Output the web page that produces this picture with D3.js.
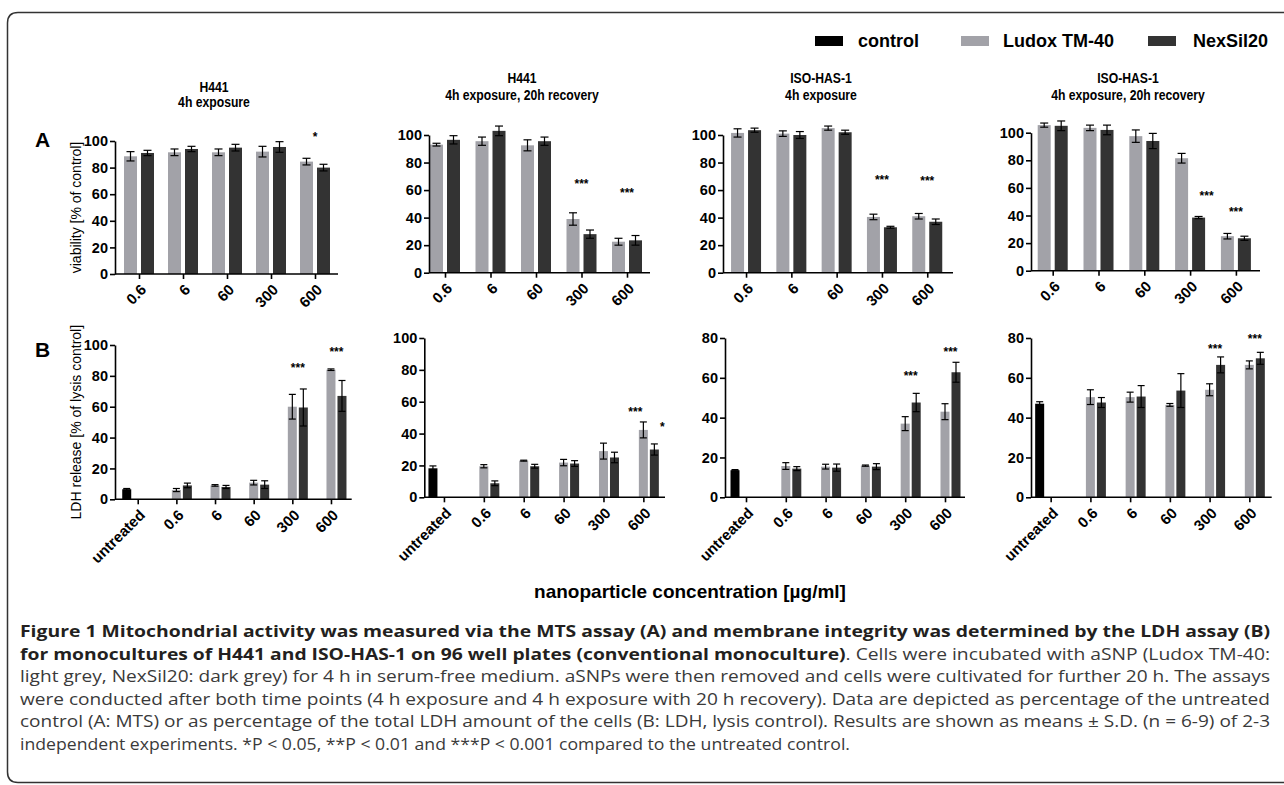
<!DOCTYPE html>
<html><head><meta charset="utf-8">
<script src="https://cdn.jsdelivr.net/npm/d3@7/dist/d3.min.js"></script>
<style>
html,body{margin:0;padding:0;background:#fff}
svg{display:block}
</style></head>
<body>
<svg id="fig" width="1284" height="785"></svg>
<script>
// ---------------- data ----------------
const seriesNames = ["control", "Ludox TM-40", "NexSil20"];
const seriesColors = ["#000000", "#a2a2a8", "#333333"];
const concA = ["0.6", "6", "60", "300", "600"];
const concB = ["untreated", "0.6", "6", "60", "300", "600"];
const panelCell = ["H441", "H441", "ISO-HAS-1", "ISO-HAS-1"];
const panelTime = ["4h exposure", "4h exposure, 20h recovery", "4h exposure", "4h exposure, 20h recovery"];
const yTicksA = [0, 20, 40, 60, 80, 100];
const yTicksB = [[0, 20, 40, 60, 80, 100], [0, 20, 40, 60, 80, 100], [0, 20, 40, 60, 80], [0, 20, 40, 60, 80]];
const yLabelA = "viability [% of control]";
const yLabelB = "LDH release [% of lysis control]";
const xTitle = "nanoparticle concentration [µg/ml]";

// Row A: viability [% of control]
const viabLudox   = [[88.5, 91.5, 91.5, 92, 84.5], [93, 95.5, 92.5, 39, 22.5], [101.5, 101, 105, 40.5, 41], [105.5, 103.5, 97.5, 81.5, 25]];
const viabLudoxSD = [[3.5, 2.5, 2.5, 4, 2.5], [1, 3, 4, 4.5, 2.5], [3, 2, 1.5, 2, 2], [1.5, 2, 4.5, 3.5, 2]];
const viabNex     = [[91, 94, 95, 95.5, 80], [96.5, 103, 95.5, 28, 23.5], [103.5, 100, 102, 33, 37], [105, 102, 94, 38.5, 23.5]];
const viabNexSD   = [[2, 2, 2.5, 4, 2.5], [3, 3.5, 3, 3, 3.5], [1.5, 2.5, 1.5, 0.7, 2], [3.5, 3.5, 5.5, 0.8, 1.5]];

// Row B: LDH release [% of lysis control]  (Ludox / NexSil for 0.6..600)
const ldhControl   = [6.5, 18.2, 13.6, 47];
const ldhControlSD = [0.5, 1.5, 0.3, 1];
const ldhLudox   = [[6, 9, 10.8, 60, 84], [19.5, 23, 21.8, 29, 42.3], [15.7, 15.4, 15.9, 37, 43], [50.3, 50.3, 46.4, 54, 66.5]];
const ldhLudoxSD = [[1, 0.5, 1.5, 8, 0.5], [1, 0.3, 2, 5, 5], [1.7, 1.2, 0.3, 3.5, 4], [3.7, 2.5, 0.7, 3, 2]];
const ldhNex     = [[9, 8, 9.5, 59.5, 67], [8.8, 19.5, 21.2, 25, 30], [14.4, 14.9, 15.4, 47.6, 62.8], [47.6, 50.6, 53.6, 66.5, 69.8]];
const ldhNexSD   = [[1.5, 1, 2.5, 12, 10], [1.5, 1.2, 1.8, 3.3, 3.5], [1, 1.8, 1.5, 4.6, 5], [2.5, 5.5, 8.5, 4, 3]];

// significance marks: [group, over which bar, y value, label]
const starsA = [
  [["600", "mid", 104.5, "*"]],
  [["300", "mid", 66, "***"], ["600", "mid", 59, "***"]],
  [["300", "mid", 68.5, "***"], ["600", "mid", 68, "***"]],
  [["300", "N", 55.6, "***"], ["600", "mid", 44, "***"]]
];
const starsB = [
  [["300", "mid", 86.4, "***"], ["600", "mid", 96.7, "***"]],
  [["600", "L", 54.5, "***"], ["600", "N", 45.5, "*"]],
  [["300", "mid", 61.8, "***"], ["600", "mid", 74, "***"]],
  [["300", "mid", 75.4, "***"], ["600", "mid", 80.7, "***"]]
];

const captionLines = [
  [["b", "Figure 1 Mitochondrial activity was measured via the MTS assay (A) and membrane integrity was determined by the LDH assay (B)"]],
  [["b", "for monocultures of H441 and ISO-HAS-1 on 96 well plates (conventional monoculture)"], ["r", ". Cells were incubated with aSNP (Ludox TM-40:"]],
  [["r", "light grey, NexSil20: dark grey) for 4 h in serum-free medium. aSNPs were then removed and cells were cultivated for further 20 h. The assays"]],
  [["r", "were conducted after both time points (4 h exposure and 4 h exposure with 20 h recovery). Data are depicted as percentage of the untreated"]],
  [["r", "control (A: MTS) or as percentage of the total LDH amount of the cells (B: LDH, lysis control). Results are shown as means \u00b1 S.D. (n = 6-9) of 2-3"]],
  [["r", "independent experiments. *P < 0.05, **P < 0.01 and ***P < 0.001 compared to the untreated control."]]
];

// ---------------- layout ----------------
const FONT = "'Liberation Sans', Arial, Helvetica, sans-serif";
const layoutA = [
  {ax: 115,  r: [117, 337],       end: 338,  y0: 274,   yTop: 141,   tx: 214,  ty: [92, 107]},
  {ax: 429,  r: [422.25, 649.75], end: 650,  y0: 272.7, yTop: 135,   tx: 522,  ty: [83, 100]},
  {ax: 723,  r: [723.4, 949.9],   end: 953,  y0: 272.7, yTop: 135,   tx: 821,  ty: [83, 100]},
  {ax: 1031, r: [1029.8, 1258.8], end: 1260, y0: 270.7, yTop: 132.7, tx: 1128, ty: [83, 100]}
];
const layoutB = [
  {ax: 115,   r: [118.4, 350.3],  end: 351.7,  y0: 499.3, yTop: 345},
  {ax: 424.3, r: [424, 663.3],    end: 665,    y0: 497.3, yTop: 338},
  {ax: 725,   r: [726.1, 964.9],  end: 965,    y0: 497.3, yTop: 338},
  {ax: 1031,  r: [1030.8, 1269.2], end: 1271.7, y0: 497.3, yTop: 338}
];

const svg = d3.select("#fig");

// frame
svg.append("path")
  .attr("d", "M1300,12.5 H18 Q7.5,12.5 7.5,23 V772 Q7.5,782.5 18,782.5 H1300")
  .attr("fill", "none").attr("stroke", "#333").attr("stroke-width", 1.5);

// legend
const legendPos = [{sx: 815, tx: 858}, {sx: 961, tx: 1003}, {sx: 1148, tx: 1193}];
seriesNames.forEach((n, i) => {
  svg.append("rect").attr("x", legendPos[i].sx).attr("y", 36).attr("width", 28).attr("height", 10)
    .attr("fill", seriesColors[i]);
  svg.append("text").attr("x", legendPos[i].tx).attr("y", 47).text(n)
    .attr("font-family", FONT).attr("font-weight", "bold").attr("font-size", 18).attr("fill", "#000");
});

function drawPanel(L, cats, yTicks, yMax, bars, stars, isB, title) {
  const g = svg.append("g");
  const x = d3.scalePoint().domain(cats).range(L.r).padding(0.5);
  const y = d3.scaleLinear().domain([0, yMax]).range([L.y0, L.yTop]);

  const bw = isB ? 9 : 13;
  const off = isB ? {C: -11, L: 0, N: 11} : {L: -8.5, N: 8.5};

  // bars
  bars.forEach(b => {
    const cx = x(b.cat) + off[b.s];
    g.append("rect").attr("x", cx - bw / 2).attr("width", bw)
      .attr("y", y(b.v)).attr("height", y(0) - y(b.v))
      .attr("fill", b.color);
  });
  // error bars
  const cap = isB ? 3.5 : 4;
  bars.forEach(b => {
    const cx = x(b.cat) + off[b.s];
    const lo = y(b.v - b.sd), hi = y(b.v + b.sd);
    const eg = g.append("g").attr("stroke", "#000").attr("stroke-width", 1.2).attr("fill", "none");
    eg.append("line").attr("x1", cx).attr("x2", cx).attr("y1", lo).attr("y2", hi);
    eg.append("line").attr("x1", cx - cap).attr("x2", cx + cap).attr("y1", hi).attr("y2", hi);
    eg.append("line").attr("x1", cx - cap).attr("x2", cx + cap).attr("y1", lo).attr("y2", lo);
  });

  // y axis
  const ya = g.append("g").attr("transform", `translate(${L.ax},0)`)
    .call(d3.axisLeft(y).tickValues(yTicks).tickSize(5).tickSizeOuter(0).tickPadding(2).tickFormat(d3.format("d")));
  ya.select(".domain").attr("stroke", "#000").attr("stroke-width", 1.6);
  ya.selectAll(".tick line").attr("stroke", "#000").attr("stroke-width", 1.6);
  ya.selectAll(".tick text").attr("font-family", FONT).attr("font-weight", "bold")
    .attr("font-size", 14.5).attr("fill", "#000");

  // x axis
  const xa = g.append("g").attr("transform", `translate(0,${L.y0})`)
    .call(d3.axisBottom(x).tickSize(5).tickSizeOuter(0));
  xa.select(".domain").remove();
  xa.append("line").attr("x1", L.ax).attr("x2", L.end).attr("y1", 0).attr("y2", 0)
    .attr("stroke", "#000").attr("stroke-width", 1.6);
  xa.selectAll(".tick line").attr("stroke", "#000").attr("stroke-width", 1.6);
  xa.selectAll(".tick text").attr("font-family", FONT).attr("font-weight", "bold")
    .attr("font-size", 15).attr("fill", "#000")
    .attr("x", 0).attr("y", 0).attr("dy", "0.35em").attr("text-anchor", "end")
    .attr("transform", "translate(4,13) rotate(-45)");

  // stars
  stars.forEach(s => {
    const base = x(s[0]);
    let sx;
    if (s[1] === "mid") sx = isB ? base + 5.5 : base;
    else sx = base + off[s[1]] + (s[1] === "N" ? 8 : -8);
    g.append("text").attr("x", sx).attr("y", y(s[2]) + 6).text(s[3])
      .attr("text-anchor", "middle").attr("font-family", FONT).attr("font-weight", "bold")
      .attr("font-size", 12).attr("fill", "#000");
  });

  if (title) {
    [title[0], title[1]].forEach((t, k) => {
      const tt = g.append("text").attr("x", L.tx).attr("y", L.ty[k]).text(t)
        .attr("text-anchor", "middle").attr("font-family", FONT).attr("font-weight", "bold")
        .attr("font-size", 14).attr("fill", "#000");
      const w = tt.node().getComputedTextLength();
      tt.attr("textLength", w * 0.87).attr("lengthAdjust", "spacingAndGlyphs");
    });
  }
}

// Row A
for (let p = 0; p < 4; p++) {
  const bars = [];
  concA.forEach((c, i) => {
    bars.push({cat: c, s: "L", v: viabLudox[p][i], sd: viabLudoxSD[p][i], color: seriesColors[1]});
    bars.push({cat: c, s: "N", v: viabNex[p][i], sd: viabNexSD[p][i], color: seriesColors[2]});
  });
  drawPanel(layoutA[p], concA, yTicksA, 100, bars, starsA[p], false, [panelCell[p], panelTime[p]]);
}
// Row B
for (let p = 0; p < 4; p++) {
  const bars = [{cat: concB[0], s: "C", v: ldhControl[p], sd: ldhControlSD[p], color: seriesColors[0]}];
  concB.slice(1).forEach((c, i) => {
    bars.push({cat: c, s: "L", v: ldhLudox[p][i], sd: ldhLudoxSD[p][i], color: seriesColors[1]});
    bars.push({cat: c, s: "N", v: ldhNex[p][i], sd: ldhNexSD[p][i], color: seriesColors[2]});
  });
  const yt = yTicksB[p];
  drawPanel(layoutB[p], concB, yt, yt[yt.length - 1], bars, starsB[p], true, null);
}

// panel letters and y titles
svg.append("text").attr("x", 35).attr("y", 147).text("A")
  .attr("font-family", FONT).attr("font-weight", "bold").attr("font-size", 21);
svg.append("text").attr("x", 35).attr("y", 357).text("B")
  .attr("font-family", FONT).attr("font-weight", "bold").attr("font-size", 21);
svg.append("text").attr("transform", `translate(81,${(141 + 274) / 2}) rotate(-90)`)
  .attr("text-anchor", "middle").text(yLabelA)
  .attr("font-family", FONT).attr("font-size", 14).attr("fill", "#000");
svg.append("text").attr("transform", `translate(81,${(345 + 499.3) / 2}) rotate(-90)`)
  .attr("text-anchor", "middle").text(yLabelB)
  .attr("font-family", FONT).attr("font-size", 14).attr("fill", "#000");

// common x title
svg.append("text").attr("x", 690).attr("y", 598).attr("text-anchor", "middle").text(xTitle)
  .attr("font-family", FONT).attr("font-weight", "bold").attr("font-size", 19).attr("fill", "#000");

// caption
const capFont = "'Open Sans', 'Noto Sans', sans-serif";
const capBase = [637, 659.6, 682.2, 704.8, 727.4, 750];
captionLines.forEach((line, i) => {
  const t = svg.append("text").attr("x", 20).attr("y", capBase[i])
    .attr("font-family", capFont).attr("font-size", 16.5).attr("fill", "#3a3a3a");
  line.forEach(seg => {
    t.append("tspan").text(seg[1])
      .attr("font-weight", seg[0] === "b" ? "bold" : "normal")
      .attr("fill", seg[0] === "b" ? "#231f20" : "#3a3a3a");
  });
  const target = i < 5 ? 1250 : 830;
  t.attr("textLength", target).attr("lengthAdjust", "spacingAndGlyphs");
});
</script>
</body></html>
